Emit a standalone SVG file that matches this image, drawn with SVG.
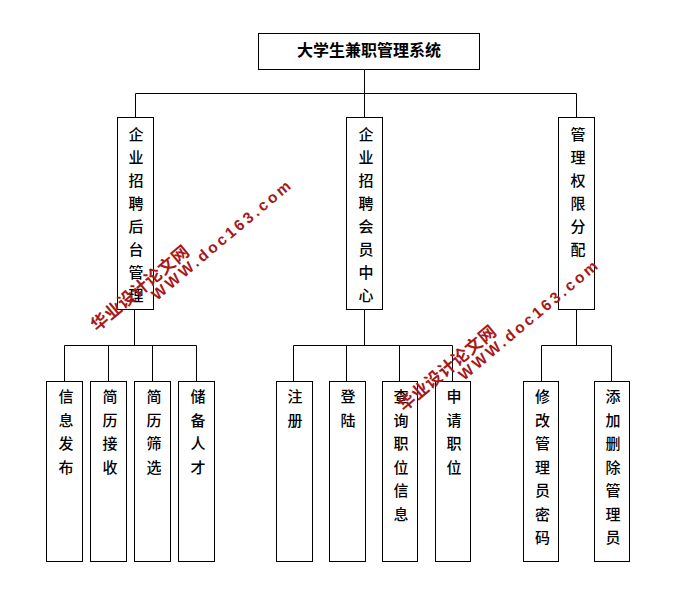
<svg xmlns="http://www.w3.org/2000/svg" width="694" height="599" viewBox="0 0 694 599">
<defs>
<style>
.box{fill:#fff;stroke:#000;stroke-width:1}
.t{font-family:"Noto Sans CJK SC","Liberation Sans",sans-serif;font-size:15px;fill:#000;text-anchor:middle;font-weight:500}
.r{font-size:16px;font-weight:700}
.c{fill:none;stroke:#000;stroke-width:1}
.w1{font-family:"Noto Sans CJK SC",sans-serif;font-size:17px;font-weight:700;fill:#a81818;letter-spacing:.5px}
.w2{font-family:"Liberation Sans",sans-serif;font-size:15.5px;font-weight:700;fill:#a81818;letter-spacing:3px}
</style>
<g id="wm">
<text class="w1" transform="translate(97,332) rotate(-40)">华业设计论文网</text>
<text class="w2" transform="translate(157,301) rotate(-40)">WWW.doc163.com</text>
</g>
</defs>
<rect width="694" height="599" fill="#fff"/>
<g id="connectors">
<path class="c" d="M364.5 69.5V117.5M135.5 93.5H576.5M135.5 93.5V117.5M576.5 93.5V117.5"/>
<path class="c" d="M134.5 309.5V345.5M64.5 345.5H196.5M64.5 345.5V381.5M108.5 345.5V381.5M152.5 345.5V381.5M196.5 345.5V381.5"/>
<path class="c" d="M364.5 309.5V345.5M293.5 345.5H452.5M293.5 345.5V381.5M346.5 345.5V381.5M399.5 345.5V381.5M452.5 345.5V381.5"/>
<path class="c" d="M576.5 309.5V345.5M541.5 345.5H611.5M541.5 345.5V381.5M611.5 345.5V381.5"/>
</g>
<g id="root"><rect class="box" x="258.5" y="33.5" width="221" height="36"/><text class="t r" x="369" y="56">大学生兼职管理系统</text></g>
<g id="n1"><rect class="box" x="117.5" y="117.5" width="36" height="192"/><text class="t"><tspan x="136" y="140">企</tspan><tspan x="136" y="163">业</tspan><tspan x="136" y="186">招</tspan><tspan x="136" y="209">聘</tspan><tspan x="136" y="232">后</tspan><tspan x="136" y="255">台</tspan><tspan x="136" y="278">管</tspan><tspan x="136" y="301">理</tspan></text></g>
<g id="n2"><rect class="box" x="346.5" y="117.5" width="36" height="192"/><text class="t"><tspan x="366" y="140">企</tspan><tspan x="366" y="163">业</tspan><tspan x="366" y="186">招</tspan><tspan x="366" y="209">聘</tspan><tspan x="366" y="232">会</tspan><tspan x="366" y="255">员</tspan><tspan x="366" y="278">中</tspan><tspan x="366" y="301">心</tspan></text></g>
<g id="n3"><rect class="box" x="558.5" y="117.5" width="36" height="192"/><text class="t"><tspan x="578" y="140">管</tspan><tspan x="578" y="163">理</tspan><tspan x="578" y="186">权</tspan><tspan x="578" y="209">限</tspan><tspan x="578" y="232">分</tspan><tspan x="578" y="255">配</tspan></text></g>
<g id="a1"><rect class="box" x="46.5" y="381.5" width="36" height="180"/><text class="t"><tspan x="66" y="402">信</tspan><tspan x="66" y="425.5">息</tspan><tspan x="66" y="449">发</tspan><tspan x="66" y="472.5">布</tspan></text></g>
<g id="a2"><rect class="box" x="90.5" y="381.5" width="36" height="180"/><text class="t"><tspan x="110" y="402">简</tspan><tspan x="110" y="425.5">历</tspan><tspan x="110" y="449">接</tspan><tspan x="110" y="472.5">收</tspan></text></g>
<g id="a3"><rect class="box" x="134.5" y="381.5" width="36" height="180"/><text class="t"><tspan x="154" y="402">简</tspan><tspan x="154" y="425.5">历</tspan><tspan x="154" y="449">筛</tspan><tspan x="154" y="472.5">选</tspan></text></g>
<g id="a4"><rect class="box" x="178.5" y="381.5" width="36" height="180"/><text class="t"><tspan x="198" y="402">储</tspan><tspan x="198" y="425.5">备</tspan><tspan x="198" y="449">人</tspan><tspan x="198" y="472.5">才</tspan></text></g>
<g id="b1"><rect class="box" x="276.5" y="381.5" width="36" height="180"/><text class="t"><tspan x="295" y="402">注</tspan><tspan x="295" y="425.5">册</tspan></text></g>
<g id="b2"><rect class="box" x="329.5" y="381.5" width="36" height="180"/><text class="t"><tspan x="348" y="402">登</tspan><tspan x="348" y="425.5">陆</tspan></text></g>
<g id="b3"><rect class="box" x="382.5" y="381.5" width="35" height="180"/><text class="t"><tspan x="401" y="402">查</tspan><tspan x="401" y="425.5">询</tspan><tspan x="401" y="449">职</tspan><tspan x="401" y="472.5">位</tspan><tspan x="401" y="496">信</tspan><tspan x="401" y="519.5">息</tspan></text></g>
<g id="b4"><rect class="box" x="435.5" y="381.5" width="35" height="180"/><text class="t"><tspan x="454" y="402">申</tspan><tspan x="454" y="425.5">请</tspan><tspan x="454" y="449">职</tspan><tspan x="454" y="472.5">位</tspan></text></g>
<g id="c1"><rect class="box" x="523.5" y="381.5" width="35" height="180"/><text class="t"><tspan x="542.5" y="402">修</tspan><tspan x="542.5" y="425.5">改</tspan><tspan x="542.5" y="449">管</tspan><tspan x="542.5" y="472.5">理</tspan><tspan x="542.5" y="496">员</tspan><tspan x="542.5" y="519.5">密</tspan><tspan x="542.5" y="543">码</tspan></text></g>
<g id="c2"><rect class="box" x="594.5" y="381.5" width="35" height="180"/><text class="t"><tspan x="613" y="402">添</tspan><tspan x="613" y="425.5">加</tspan><tspan x="613" y="449">删</tspan><tspan x="613" y="472.5">除</tspan><tspan x="613" y="496">管</tspan><tspan x="613" y="519.5">理</tspan><tspan x="613" y="543">员</tspan></text></g>
<use href="#wm"/>
<use href="#wm" x="307" y="80"/>
</svg>
